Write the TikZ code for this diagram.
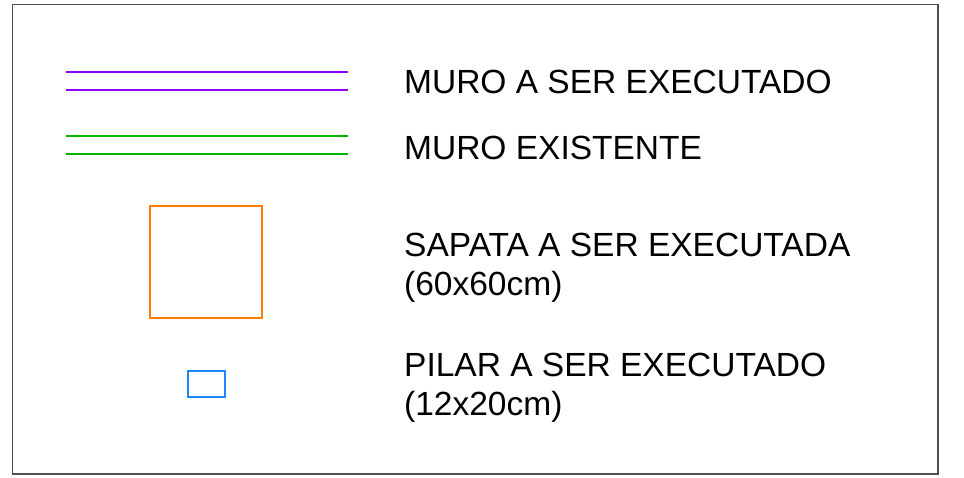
\documentclass[tikz,border=0pt]{standalone}
\usepackage{fontspec}
\setmainfont{Liberation Sans}
\definecolor{cpurple}{HTML}{8F00FF}
\definecolor{cgreen}{HTML}{00B400}
\definecolor{corange}{HTML}{FF8000}
\definecolor{cblue}{HTML}{1E88FF}
\definecolor{cframe}{HTML}{505050}
\begin{document}
\begin{tikzpicture}[x=1pt,y=-1pt,
  lbl/.style={anchor=base west,inner sep=0pt,font=\fontsize{33.5}{39}\selectfont,align=left},
  wall/.style={line width=2pt}]
\useasboundingbox (0,0) rectangle (964,478);
\draw[cframe,line width=1.5pt] (12.5,4.5) rectangle (938,474);
% purple wall
\coordinate (p1a) at (66,72); \coordinate (p1b) at (348,72);
\coordinate (p2a) at (66,90); \coordinate (p2b) at (348,90);
\draw[wall,cpurple] (p1a) -- (p1b);
\draw[wall,cpurple] (p2a) -- (p2b);
% green wall
\coordinate (g1a) at (66,136.5); \coordinate (g1b) at (348,136.5);
\coordinate (g2a) at (66,154.5); \coordinate (g2b) at (348,154.5);
\draw[wall,cgreen] (g1a) -- (g1b);
\draw[wall,cgreen] (g2a) -- (g2b);
% sapata
\draw[corange,line width=2pt] (150,206.5) rectangle (262,318);
% pilar
\draw[cblue,line width=2pt] (187.5,371) rectangle (225,397);
% labels
\node[lbl] (t1) at (404,94) {MURO A SER EXECUTADO};
\node[lbl] (t2) at (404,160) {MURO EXISTENTE};
\node[lbl] (t3) at (404,257) {SAPATA A SER EXECUTADA};
\node[lbl] (t3b) at (404,296) {(60x60cm)};
\node[lbl] (t4) at (404,376) {PILAR A SER EXECUTADO};
\node[lbl] (t4b) at (404,415) {(12x20cm)};
\end{tikzpicture}
\end{document}
